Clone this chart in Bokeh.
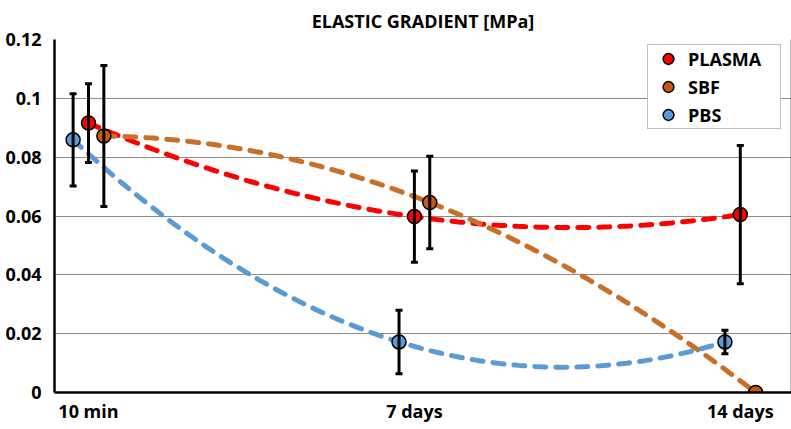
import numpy as np
from bokeh.plotting import figure
from bokeh.embed import file_html
from bokeh.resources import INLINE
from bokeh.models import (ColumnDataSource, Whisker, TeeHead, FixedTicker, Legend, LegendItem,
                          LinearAxis, Range1d, CustomJSTickFormatter)

# ---- data ----
categories = ["10 min", "7 days", "14 days"]
days = [0, 7, 14]
series = ["PLASMA", "SBF", "PBS"]
plasma_mean = [0.0916, 0.0598, 0.0605]
plasma_err = [0.0134, 0.0155, 0.0235]
sbf_mean = [0.0872, 0.0646, 0.0]
sbf_err = [0.0240, 0.0157, 0.0]
pbs_mean = [0.0859, 0.0172, 0.0172]
pbs_err = [0.0157, 0.0108, 0.0040]
y_ticks = [0, 0.02, 0.04, 0.06, 0.08, 0.10, 0.12]

FONT = "Open Sans"
marker_colors = {"PLASMA": "#FF0000", "SBF": "#C55A11", "PBS": "#5B9BD5"}
line_colors = {"PLASMA": "#FF0000", "SBF": "#C8702A", "PBS": "#5B9BD5"}
offsets = {"PLASMA": 0.0, "SBF": 0.33, "PBS": -0.33}

p = figure(width=791, height=429, output_backend="svg", toolbar_location=None,
           x_range=Range1d(-0.73, 15.1), y_range=Range1d(0, 0.12),
           min_border_left=54, min_border_right=0, min_border_top=37, min_border_bottom=37)
p.background_fill_color = "white"
p.border_fill_color = "white"
p.outline_line_color = None

p.title.text = "ELASTIC GRADIENT [MPa]"
p.title.align = "center"
p.title.text_font = FONT
p.title.text_font_size = "18px"
p.title.text_font_style = "bold"
p.title.text_color = "black"
p.title.standoff = 13

# axes
p.xaxis.ticker = FixedTicker(ticks=days)
p.xaxis.major_label_overrides = {d: c for d, c in zip(days, categories)}
p.yaxis.ticker = FixedTicker(ticks=y_ticks)
p.yaxis.formatter = CustomJSTickFormatter(code="return tick == 0 ? '0' : String(+tick.toFixed(2));")
for ax in (p.xaxis, p.yaxis):
    ax.axis_line_color = "black"
    ax.axis_line_width = 2.5
    ax.major_tick_line_color = None
    ax.minor_tick_line_color = None
    ax.major_label_text_font = FONT
    ax.major_label_text_font_size = "18px"
    ax.major_label_text_font_style = "bold"
    ax.major_label_text_color = "black"
p.xaxis.major_label_standoff = 0
p.yaxis.major_label_standoff = 7

right = LinearAxis(axis_line_color="black", axis_line_width=1.5,
                   major_tick_line_color=None, minor_tick_line_color=None,
                   major_label_text_font_size="0px", ticker=FixedTicker(ticks=[]))
p.add_layout(right, "right")

p.xgrid.grid_line_color = None
p.ygrid.grid_line_color = "#8c8c8c"
p.ygrid.grid_line_width = 1

data = {"PLASMA": (plasma_mean, plasma_err), "SBF": (sbf_mean, sbf_err), "PBS": (pbs_mean, pbs_err)}

# trend lines (2nd order polynomial through the points)
for name in series:
    m, e = data[name]
    xs = np.array(days, dtype=float) + offsets[name]
    coef = np.polyfit(xs, m, 2)
    xx = np.linspace(xs[0], xs[-1], 200)
    p.line(xx, np.polyval(coef, xx), line_color=line_colors[name], line_width=5,
           line_dash="11 10", line_cap="round")

# error bars
for name in series:
    m, e = data[name]
    xs = [d + offsets[name] for d in days]
    keep = [i for i in range(len(days)) if e[i] > 0]
    src = ColumnDataSource(dict(x=[xs[i] for i in keep],
                                lo=[m[i] - e[i] for i in keep],
                                hi=[m[i] + e[i] for i in keep]))
    w = Whisker(source=src, base="x", lower="lo", upper="hi", dimension="height",
                line_color="black", line_width=3,
                upper_head=TeeHead(size=7, line_width=3, line_color="black"),
                lower_head=TeeHead(size=7, line_width=3, line_color="black"))
    w.level = "glyph"
    p.add_layout(w)

# markers
renderers = {}
for name in series:
    m, e = data[name]
    xs = [d + offsets[name] for d in days]
    renderers[name] = p.scatter(xs, m, size=14, fill_color=marker_colors[name],
                                line_color="black", line_width=1.5)

legend = Legend(items=[LegendItem(label=n, renderers=[renderers[n]]) for n in series],
                location=(593, 263))
legend.label_text_font = FONT
legend.label_text_font_size = "18px"
legend.label_text_font_style = "bold"
legend.label_text_color = "black"
legend.border_line_color = "#808080"
legend.border_line_width = 1
legend.background_fill_color = "white"
legend.background_fill_alpha = 1
legend.padding = 0
legend.spacing = 1
legend.glyph_width = 40
legend.glyph_height = 27
legend.label_height = 27
legend.label_standoff = 0
legend.label_width = 92
legend.margin = 0
p.add_layout(legend)

open("out.html", "w").write(file_html(p, INLINE))
